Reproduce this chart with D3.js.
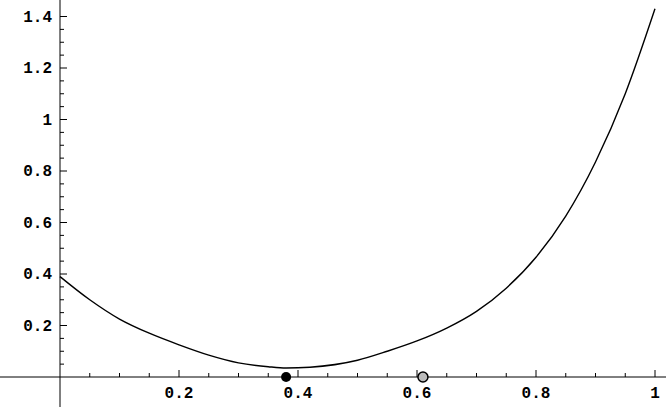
<!DOCTYPE html>
<html><head><meta charset="utf-8">
<script src="https://cdn.jsdelivr.net/npm/d3@7"></script>
<style>body{margin:0;background:#fff}text{font-family:"Liberation Mono",monospace;font-weight:bold;font-size:16px}</style>
</head><body><svg width="666" height="407"></svg>
<script>
var curveX = [0, 0.05, 0.1, 0.15, 0.2, 0.25, 0.3, 0.35, 0.38, 0.42, 0.5, 0.55, 0.6, 0.65, 0.7, 0.75, 0.8, 0.85, 0.9, 0.95, 1.0];
var curveY = [0.39, 0.3, 0.225, 0.17, 0.125, 0.085, 0.055, 0.04, 0.035, 0.038, 0.065, 0.1, 0.14, 0.19, 0.255, 0.345, 0.465, 0.625, 0.835, 1.1, 1.43];
var xTicks = [0.2, 0.4, 0.6, 0.8, 1];
var yTicks = [0.2, 0.4, 0.6, 0.8, 1, 1.2, 1.4];
var markers = [{x: 0.38, y: 0, filled: true}, {x: 0.61, y: 0, filled: false}];

var svg = d3.select("svg");
var x = d3.scaleLinear().domain([0, 1]).range([60, 655]);
var y = d3.scaleLinear().domain([0, 1.4]).range([377, 16.5]);
var fmt = function (d) { return d === 1 ? "1" : d3.format(".1f")(d); };

svg.append("line").attr("x1", 0).attr("x2", 666).attr("y1", y(0)).attr("y2", y(0)).attr("stroke", "#000");
d3.range(1, 21).forEach(function (i) {
  var v = i * 0.05, major = i % 4 === 0;
  svg.append("line").attr("x1", x(v)).attr("x2", x(v)).attr("y1", y(0)).attr("y2", y(0) - (major ? 7 : 4)).attr("stroke", "#000");
});
xTicks.forEach(function (v) {
  svg.append("text").attr("x", x(v)).attr("y", y(0) + 21).attr("text-anchor", "middle").text(fmt(v));
});

svg.append("line").attr("x1", x(0)).attr("x2", x(0)).attr("y1", 0).attr("y2", 407).attr("stroke", "#000");
d3.range(1, 29).forEach(function (i) {
  var v = i * 0.05, major = i % 4 === 0;
  svg.append("line").attr("x1", x(0)).attr("x2", x(0) + (major ? 7 : 4)).attr("y1", y(v)).attr("y2", y(v)).attr("stroke", "#000");
});
yTicks.forEach(function (v) {
  svg.append("text").attr("x", 52).attr("y", y(v) + 5).attr("text-anchor", "end").text(fmt(v));
});

var line = d3.line().x(function (d, i) { return x(curveX[i]); }).y(function (d) { return y(d); }).curve(d3.curveMonotoneX);
svg.append("path").attr("d", line(curveY)).attr("fill", "none").attr("stroke", "#000").attr("stroke-width", 1.4);

markers.forEach(function (m) {
  svg.append("circle").attr("cx", x(m.x)).attr("cy", y(m.y)).attr("r", 5)
    .attr("fill", m.filled ? "#000" : "#bbb").attr("stroke", "#000").attr("stroke-width", m.filled ? 0 : 1.5);
});
</script></body></html>
